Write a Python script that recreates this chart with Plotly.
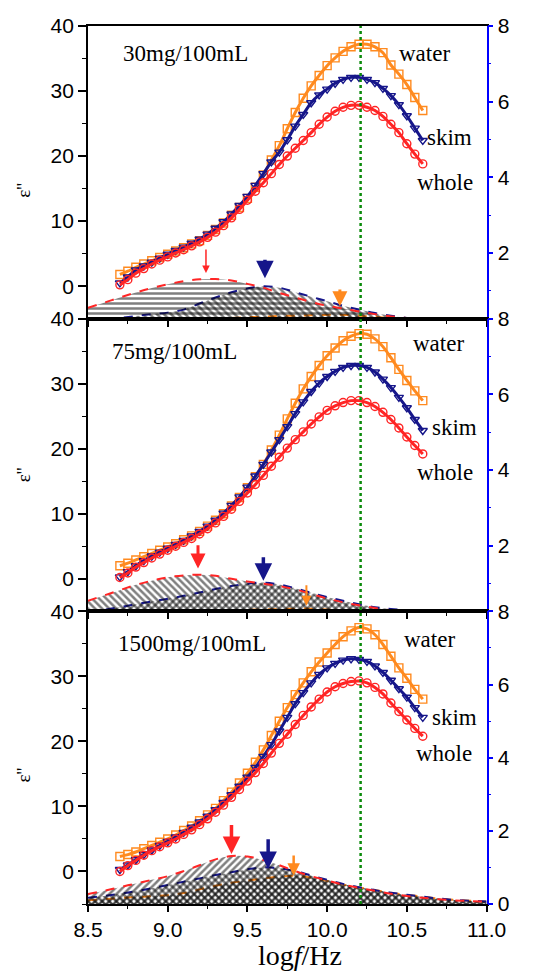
import plotly.graph_objects as go
from plotly.subplots import make_subplots

# ---------------- data ----------------
LOGF = [8.70, 8.75, 8.80, 8.85, 8.90, 8.95, 9.00, 9.05, 9.10, 9.15, 9.20, 9.25, 9.30,
        9.35, 9.40, 9.45, 9.50, 9.55, 9.60, 9.65, 9.70, 9.75, 9.80, 9.85, 9.90, 9.95,
        10.00, 10.05, 10.10, 10.15, 10.20, 10.25, 10.30, 10.35, 10.40, 10.45, 10.50,
        10.55, 10.60]

WATER_30 = [1.8, 2.3, 2.9, 3.4, 3.9, 4.4, 4.9, 5.4, 5.9, 6.5, 7.0, 7.8, 8.7, 9.7, 10.9,
            12.1, 13.5, 15.2, 17.1, 19.4, 21.6, 24.2, 26.7, 28.9, 30.8, 32.4, 33.9, 35.1,
            36.1, 36.8, 37.2, 37.2, 36.8, 35.9, 34.0, 32.6, 31.0, 29.0, 27.0]
SKIM_30 = [0.5, 1.4, 2.5, 3.1, 3.7, 4.3, 4.9, 5.5, 6.0, 6.6, 7.2, 8.0, 8.9, 9.9, 11.1,
           12.4, 13.8, 15.5, 17.3, 19.1, 20.6, 22.5, 24.6, 26.4, 28.2, 29.4, 30.3, 31.2,
           31.8, 32.1, 32.1, 31.8, 31.3, 30.4, 29.3, 27.9, 26.2, 24.3, 22.4]
WHOLE_30 = [0.2, 1.0, 2.0, 2.7, 3.4, 4.0, 4.5, 5.1, 5.6, 6.2, 6.8, 7.5, 8.3, 9.3, 10.5,
            11.8, 13.2, 14.6, 15.9, 17.3, 18.7, 20.0, 21.2, 22.4, 23.6, 24.9, 26.0, 26.9,
            27.5, 27.8, 27.8, 27.5, 27.0, 26.1, 24.9, 23.6, 21.9, 20.3, 18.8]

WATER_75 = [2.0, 2.4, 2.9, 3.4, 3.9, 4.4, 4.9, 5.4, 6.0, 6.6, 7.3, 8.1, 9.0, 10.0, 11.2,
            12.5, 14.0, 15.7, 17.6, 19.8, 22.1, 24.6, 27.0, 29.2, 31.1, 32.8, 34.3, 35.5,
            36.6, 37.3, 37.7, 37.6, 36.9, 35.7, 34.0, 32.2, 30.5, 28.9, 27.4]
SKIM_75 = [0.3, 1.1, 2.0, 2.8, 3.5, 4.1, 4.7, 5.3, 5.9, 6.6, 7.3, 8.1, 9.0, 10.1, 11.3,
           12.6, 14.1, 15.8, 17.6, 19.5, 21.4, 23.4, 25.4, 27.2, 28.8, 30.1, 31.1, 31.9,
           32.5, 32.8, 32.8, 32.5, 31.8, 30.7, 29.4, 27.9, 26.3, 24.5, 22.8]
WHOLE_75 = [0.2, 0.9, 1.8, 2.5, 3.2, 3.8, 4.4, 5.0, 5.6, 6.2, 6.9, 7.7, 8.6, 9.6, 10.7,
            11.9, 13.2, 14.5, 15.9, 17.3, 18.7, 20.1, 21.4, 22.6, 23.8, 24.9, 25.9, 26.6,
            27.1, 27.4, 27.4, 27.1, 26.5, 25.6, 24.5, 23.2, 21.8, 20.5, 19.2]

WATER_1500 = [2.3, 2.6, 3.0, 3.5, 4.0, 4.5, 5.0, 5.6, 6.3, 7.0, 7.8, 8.7, 9.7, 10.9, 12.2,
              13.6, 15.1, 16.8, 18.7, 20.9, 23.1, 25.2, 27.2, 29.0, 30.7, 32.2, 33.6, 34.9,
              36.1, 37.0, 37.5, 37.3, 36.4, 34.9, 33.1, 31.3, 29.7, 28.0, 26.5]
SKIM_1500 = [0.3, 1.0, 1.8, 2.6, 3.3, 4.0, 4.6, 5.3, 6.0, 6.8, 7.6, 8.5, 9.5, 10.6, 11.8,
             13.1, 14.5, 16.0, 17.7, 19.5, 21.6, 23.7, 25.8, 27.5, 29.0, 30.3, 31.3, 32.0,
             32.5, 32.7, 32.6, 32.3, 31.6, 30.6, 29.4, 28.1, 26.8, 25.2, 23.7]
WHOLE_1500 = [0.0, 0.9, 1.7, 2.5, 3.2, 3.8, 4.4, 5.0, 5.7, 6.4, 7.2, 8.1, 9.1, 10.2, 11.4,
              12.6, 13.9, 15.2, 16.6, 18.2, 19.7, 21.1, 22.6, 24.0, 25.3, 26.5, 27.6, 28.4,
              28.9, 29.2, 29.3, 29.0, 28.3, 27.3, 25.9, 24.6, 23.3, 22.0, 20.8]

# relaxation components (right axis)
LOGF_H = [8.5, 8.6, 8.7, 8.8, 8.9, 9.0, 9.1, 9.2, 9.3, 9.4, 9.5, 9.6, 9.7, 9.8, 9.9,
          10.0, 10.1, 10.2, 10.3, 10.4, 10.5, 10.6, 10.7, 10.8, 10.9, 11.0]

WHOLE_30_H = [0.55, 0.68, 0.82, 0.95, 1.07, 1.17, 1.25, 1.30, 1.31, 1.27, 1.18, 1.08, 0.94,
              0.82, 0.70, 0.60, 0.53, 0.45, 0.38, 0.32, 0.28, 0.25, 0.22, 0.20, 0.18, 0.16]
SKIM_30_H = [0.20, 0.24, 0.28, 0.33, 0.38, 0.42, 0.50, 0.66, 0.82, 0.96, 1.06, 1.12, 1.08,
             0.96, 0.84, 0.72, 0.60, 0.50, 0.41, 0.34, 0.28, 0.24, 0.21, 0.19, 0.17, 0.15]
WATER_30_H = [0.10, 0.12, 0.14, 0.16, 0.18, 0.20, 0.22, 0.24, 0.26, 0.28, 0.30, 0.31, 0.33,
              0.34, 0.35, 0.36, 0.36, 0.34, 0.31, 0.27, 0.23, 0.19, 0.16, 0.13, 0.10, 0.08]

WHOLE_75_H = [0.54, 0.68, 0.82, 0.96, 1.07, 1.16, 1.21, 1.23, 1.20, 1.12, 1.05, 0.99, 0.93,
              0.84, 0.72, 0.60, 0.50, 0.42, 0.35, 0.29, 0.25, 0.22, 0.20, 0.18, 0.16, 0.14]
SKIM_75_H = [0.24, 0.30, 0.37, 0.45, 0.52, 0.59, 0.67, 0.76, 0.85, 0.93, 0.99, 1.02, 0.97,
             0.87, 0.75, 0.64, 0.54, 0.45, 0.37, 0.32, 0.29, 0.26, 0.24, 0.22, 0.20, 0.18]
WATER_75_H = [0.10, 0.12, 0.14, 0.16, 0.18, 0.20, 0.22, 0.24, 0.26, 0.28, 0.30, 0.31, 0.32,
              0.33, 0.33, 0.31, 0.28, 0.25, 0.22, 0.19, 0.16, 0.13, 0.11, 0.09, 0.08, 0.07]

WHOLE_1500_H = [0.27, 0.36, 0.46, 0.56, 0.66, 0.76, 0.90, 1.06, 1.22, 1.31, 1.30, 1.20, 1.06,
                0.90, 0.76, 0.64, 0.53, 0.44, 0.36, 0.28, 0.22, 0.17, 0.13, 0.10, 0.08, 0.06]
SKIM_1500_H = [0.17, 0.22, 0.28, 0.35, 0.43, 0.52, 0.61, 0.70, 0.79, 0.87, 0.95, 1.00, 0.98,
               0.90, 0.78, 0.66, 0.55, 0.46, 0.38, 0.31, 0.25, 0.20, 0.15, 0.11, 0.09, 0.07]
WATER_1500_H = [0.10, 0.13, 0.16, 0.19, 0.21, 0.24, 0.30, 0.40, 0.50, 0.58, 0.64, 0.70, 0.75,
                0.77, 0.72, 0.63, 0.53, 0.45, 0.38, 0.31, 0.25, 0.20, 0.15, 0.11, 0.09, 0.07]

PANEL_LABELS = ["30mg/100mL", "75mg/100mL", "1500mg/100mL"]
SERIES_NAMES = ["water", "skim", "whole"]
# arrows: (logf, tail value, head value) on right axis, per panel, order whole, skim, water
ARROWS = [
    [(9.24, 2.13, 1.47), (9.61, 1.86, 1.33), (10.08, 1.07, 0.59)],
    [(9.19, 2.05, 1.39), (9.60, 1.73, 1.07), (9.87, 0.99, 0.41)],
    [(9.40, 2.20, 1.37), (9.63, 1.81, 0.96), (9.79, 1.37, 0.77)],
]
PEAK_LOGF = 10.21

MAIN = [
    (WATER_30, SKIM_30, WHOLE_30),
    (WATER_75, SKIM_75, WHOLE_75),
    (WATER_1500, SKIM_1500, WHOLE_1500),
]
HATCH = [
    (WATER_30_H, SKIM_30_H, WHOLE_30_H),
    (WATER_75_H, SKIM_75_H, WHOLE_75_H),
    (WATER_1500_H, SKIM_1500_H, WHOLE_1500_H),
]

# ---------------- style ----------------
C_WATER = "#ff8a1f"
C_SKIM = "#16168a"
C_WHOLE = "#ff2525"
COLORS = [C_WATER, C_SKIM, C_WHOLE]
SYMBOLS = ["square-open", "triangle-down-open", "circle-open"]
HATCH_SHAPES = [
    ["x", "\\", "-"],
    ["x", "/", "\\"],
    ["x", "\\", "/"],
]
SERIF = "Liberation Serif, Times New Roman, serif"
SANS = "Liberation Sans, Arial, sans-serif"

fig = make_subplots(rows=3, cols=1, vertical_spacing=0,
                    specs=[[{"secondary_y": True}]] * 3)

for r in range(3):
    row = r + 1
    # hatched relaxation components (right axis)
    for k in range(3):
        fig.add_trace(go.Scatter(
            x=LOGF_H, y=HATCH[r][k], mode="lines",
            line=dict(color=COLORS[k], width=2, dash="dash", shape="spline"),
            fill="tozeroy", fillcolor="rgba(0,0,0,0)",
            fillpattern=dict(shape=HATCH_SHAPES[r][k], fgcolor="black",
                             bgcolor="rgba(0,0,0,0)", size=5, solidity=0.5),
            showlegend=False, hoverinfo="skip"),
            row=row, col=1, secondary_y=True)
    # main loss curves
    for k in range(3):
        fig.add_trace(go.Scatter(
            x=LOGF, y=MAIN[r][k], mode="lines+markers",
            line=dict(color=COLORS[k], width=3, shape="spline"),
            marker=dict(symbol=SYMBOLS[k], size=8, color=COLORS[k],
                        line=dict(width=1.4, color=COLORS[k])),
            name=SERIES_NAMES[k], showlegend=False),
            row=row, col=1, secondary_y=False)

    fig.update_xaxes(range=[8.5, 11.0], dtick=0.5, tick0=8.5, tickformat=".1f",
                     ticks="outside", ticklen=6, tickwidth=1.5, tickcolor="black",
                     minor=dict(dtick=0.25, ticklen=3, tickwidth=1.2, tickcolor="black", ticks="outside"),
                     showline=True, linecolor="black", linewidth=1.8, mirror=True,
                     showgrid=False, zeroline=False,
                     showticklabels=(row == 3),
                     tickfont=dict(family=SANS, size=21, color="black"),
                     row=row, col=1)
    fig.update_yaxes(range=[-5, 40], tick0=0, dtick=10,
                     ticks="outside", ticklen=8, tickwidth=1.5, tickcolor="black",
                     minor=dict(dtick=5, ticklen=4, tickwidth=1.2, tickcolor="black", ticks="outside"),
                     showline=True, linecolor="black", linewidth=1.8,
                     showgrid=False, zeroline=False,
                     tickfont=dict(family=SANS, size=21, color="black"),
                     row=row, col=1, secondary_y=False)
    fig.update_yaxes(range=[0, 8] if row == 3 else [0.26, 8], tick0=0, dtick=2,
                     ticks="outside", ticklen=5, tickwidth=1.5, tickcolor="blue",
                     minor=dict(dtick=1, ticklen=3, tickwidth=1.2, tickcolor="blue", ticks="outside"),
                     showline=True, linecolor="blue", linewidth=1.8,
                     showgrid=False, zeroline=False,
                     tickfont=dict(family=SANS, size=21, color="black"),
                     row=row, col=1, secondary_y=True)

annotations = []
label_pos = [
    [(9.11, 35.7), (10.61, 35.8), (10.77, 22.8), (10.74, 16.0)],
    [(9.04, 34.9), (10.70, 36.2), (10.80, 23.2), (10.74, 16.3)],
    [(9.15, 35.1), (10.64, 35.7), (10.80, 23.7), (10.73, 18.2)],
]
arrow_widths = [[1.5, 3.5, 3], [3, 3.5, 2], [3.5, 3.5, 2.5]]
arrow_colors = [C_WHOLE, C_SKIM, C_WATER]
for r in range(3):
    xr = "x" if r == 0 else f"x{r + 1}"
    yp = "y" if r == 0 else f"y{2 * r + 1}"
    ys = f"y{2 * r + 2}"
    texts = [PANEL_LABELS[r]] + SERIES_NAMES
    for t, (lx, ly) in zip(texts, label_pos[r]):
        annotations.append(dict(x=lx, y=ly, xref=xr, yref=yp, text=t, showarrow=False,
                                font=dict(family=SERIF, size=23, color="black"),
                                xanchor="center", yanchor="middle"))
    for k, (ax_, tail, head) in enumerate(ARROWS[r]):
        annotations.append(dict(x=ax_, y=head, xref=xr, yref=ys, ax=ax_, ay=tail,
                                axref=xr, ayref=ys, text="", showarrow=True,
                                arrowhead=2, arrowsize=1, arrowwidth=arrow_widths[r][k],
                                arrowcolor=arrow_colors[k]))

# y-axis titles
for yc in [0.813, 0.489, 0.147]:
    annotations.append(dict(x=-0.152, y=yc, xref="paper", yref="paper", text="ε''",
                            textangle=-90, showarrow=False,
                            font=dict(family=SERIF, size=19, color="black"),
                            xanchor="center", yanchor="middle"))
# x-axis title
annotations.append(dict(x=0.5, y=-0.0786, xref="paper", yref="paper",
                        text="log<i>f</i>/Hz", showarrow=False,
                        font=dict(family=SERIF, size=28, color="black"),
                        xanchor="center", yanchor="bottom"))

fig.add_shape(type="line", x0=PEAK_LOGF, x1=PEAK_LOGF, xref="x", y0=0, y1=1, yref="paper",
              line=dict(color="#0a8a0a", width=2.5, dash="dot"))

fig.update_layout(width=544, height=973, margin=dict(l=88, r=27, t=26, b=69),
                  paper_bgcolor="white", plot_bgcolor="rgba(0,0,0,0)",
                  annotations=annotations, showlegend=False)

fig.write_html("out.html")
